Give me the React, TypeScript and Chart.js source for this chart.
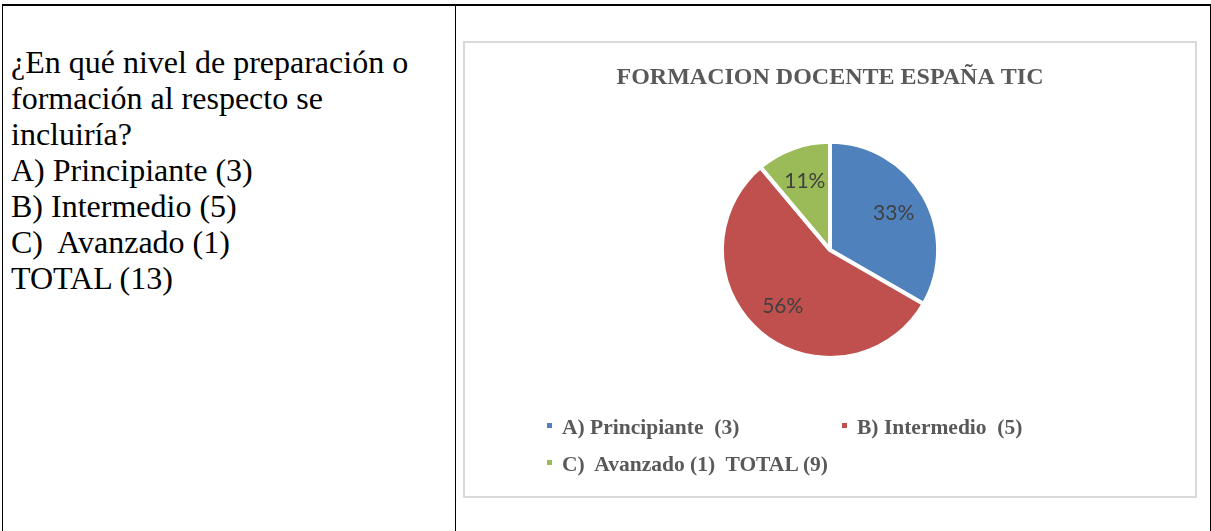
import React, { useEffect, useRef } from "react";
import { Chart, registerables } from "chart.js";

Chart.register(...registerables);

// ---- data ----
const chartTitle = "FORMACION DOCENTE ESPAÑA TIC";
const categories = ["A) Principiante  (3)", "B) Intermedio  (5)", "C)  Avanzado (1)  TOTAL (9)"];
const values = [3, 5, 1];
const sliceColors = ["#4F81BD", "#C0504D", "#9BBB59"];
const questionLines = [
  "¿En qué nivel de preparación o",
  "formación al respecto se",
  "incluiría?",
  "A) Principiante (3)",
  "B) Intermedio (5)",
  "C)  Avanzado (1)",
  "TOTAL (13)",
];

const sliceLabelPlugin = {
  id: "sliceLabels",
  afterDatasetsDraw(chart: any) {
    const ctx = chart.ctx;
    const meta = chart.getDatasetMeta(0);
    const data = chart.data.datasets[0].data as number[];
    const total = data.reduce((a, b) => a + b, 0);
    ctx.save();
    ctx.font = "21px Lato";
    ctx.fillStyle = "#404040";
    ctx.textAlign = "center";
    ctx.textBaseline = "middle";
    meta.data.forEach((arc: any, i: number) => {
      const { x, y, startAngle, endAngle, outerRadius } = arc.getProps(
        ["x", "y", "startAngle", "endAngle", "outerRadius"],
        true
      );
      const mid = (startAngle + endAngle) / 2;
      const r = outerRadius * 0.68;
      const label = Math.round((data[i] / total) * 100) + "%";
      ctx.fillText(label, x + Math.cos(mid) * r, y + Math.sin(mid) * r);
    });
    ctx.restore();
  },
};

function PieChart() {
  const ref = useRef<HTMLCanvasElement | null>(null);
  useEffect(() => {
    if (!ref.current) return;
    const chart = new Chart(ref.current, {
      type: "pie",
      data: {
        labels: categories,
        datasets: [
          {
            data: values,
            backgroundColor: sliceColors,
            borderColor: "#ffffff",
            borderWidth: 4,
            hoverBorderWidth: 4,
          },
        ],
      },
      options: {
        responsive: false,
        animation: false,
        layout: { padding: { top: 0, bottom: 136, left: 0, right: 0 } },
        plugins: {
          legend: { display: false },
          tooltip: { enabled: false },
          title: {
            display: true,
            text: chartTitle,
            color: "#595959",
            font: { family: "'Liberation Serif', 'Times New Roman', serif", size: 24, weight: "bold", lineHeight: 1.2 },
            padding: { top: 20, bottom: 48 },
          },
        },
      },
      plugins: [sliceLabelPlugin],
    });
    return () => chart.destroy();
  }, []);
  return (
    <canvas
      ref={ref}
      width={730}
      height={453}
      style={{ position: "absolute", left: 465, top: 43, width: 730, height: 453 }}
    />
  );
}

export default function App() {
  return (
    <div
      style={{
        position: "fixed",
        left: 0,
        top: 0,
        width: 1211,
        height: 531,
        background: "#ffffff",
        overflow: "hidden",
      }}
    >
      {/* table borders */}
      <div style={{ position: "absolute", left: 2, top: 4, width: 1209, height: 2, background: "#000" }} />
      <div style={{ position: "absolute", left: 2, top: 4, width: 1, height: 527, background: "#000" }} />
      <div style={{ position: "absolute", left: 455, top: 4, width: 1, height: 527, background: "#000" }} />
      <div style={{ position: "absolute", left: 1210, top: 4, width: 1, height: 527, background: "#000" }} />

      {/* question text */}
      <div
        style={{
          position: "absolute",
          left: 11,
          top: 44,
          fontFamily: "'Liberation Serif', 'Times New Roman', serif",
          fontSize: 32,
          lineHeight: "36px",
          color: "#000",
          whiteSpace: "pre",
        }}
      >
        {questionLines.map((l, i) => (
          <div key={i}>{l}</div>
        ))}
      </div>

      {/* chart frame */}
      <div
        style={{
          position: "absolute",
          left: 463,
          top: 41,
          width: 734,
          height: 457,
          boxSizing: "border-box",
          border: "2px solid #d9d9d9",
          background: "#fff",
        }}
      />
      <PieChart />

      {/* legend */}
      <div
        style={{
          position: "absolute",
          left: 547,
          top: 409,
          display: "grid",
          gridTemplateColumns: "295px 295px",
          gridAutoRows: "37px",
          fontFamily: "'Liberation Serif', 'Times New Roman', serif",
          fontWeight: "bold",
          fontSize: 21.5,
          lineHeight: "37px",
          color: "#595959",
        }}
      >
        {categories.map((c, i) => (
          <div key={i} style={{ display: "flex", alignItems: "flex-start", whiteSpace: "pre" }}>
            <span
              style={{
                display: "inline-block",
                width: 5,
                height: 5,
                marginTop: 14,
                marginRight: 10,
                background: sliceColors[i],
                flex: "none",
              }}
            />
            <span>{c}</span>
          </div>
        ))}
      </div>
    </div>
  );
}
